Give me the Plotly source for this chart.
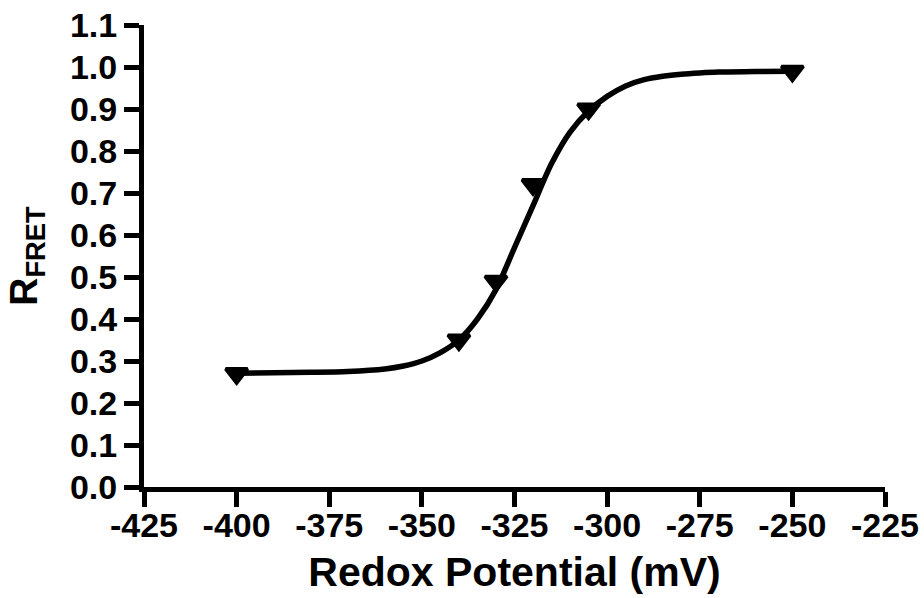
import plotly.graph_objects as go

# measured data points
pts_x = [-400, -340, -330, -320, -305, -250]
pts_y = [0.27, 0.35, 0.49, 0.72, 0.90, 0.99]

# fitted curve
fit_x = [-400, -390, -380, -370, -360, -355, -350, -345, -340, -335, -330, -325,
         -320, -315, -310, -305, -300, -295, -290, -285, -280, -275, -270, -260, -250]
fit_y = [0.271, 0.272, 0.273, 0.275, 0.281, 0.288, 0.300, 0.320, 0.350, 0.400, 0.470, 0.570,
         0.670, 0.770, 0.845, 0.895, 0.930, 0.955, 0.970, 0.978, 0.983, 0.986, 0.988, 0.989, 0.990]

x_ticks = [-425, -400, -375, -350, -325, -300, -275, -250, -225]
y_ticks = [0.0, 0.1, 0.2, 0.3, 0.4, 0.5, 0.6, 0.7, 0.8, 0.9, 1.0, 1.1]

FONT = "Liberation Sans, Arial, sans-serif"

fig = go.Figure()
fig.add_trace(go.Scatter(x=fit_x, y=fit_y, mode="lines",
                         line=dict(color="black", width=5.5, shape="spline", smoothing=0.8),
                         hoverinfo="skip", showlegend=False))
fig.add_trace(go.Scatter(x=pts_x, y=pts_y, mode="markers",
                         marker=dict(symbol="triangle-down", size=19, color="black",
                                     line=dict(color="black", width=3.5)),
                         showlegend=False))

fig.update_layout(
    width=924, height=598,
    margin=dict(l=144, r=39, t=25, b=111),
    paper_bgcolor="white", plot_bgcolor="white",
    font=dict(family=FONT, color="black"),
)
fig.update_xaxes(
    range=[-425, -225], tickvals=x_ticks, ticktext=[str(v) for v in x_ticks],
    automargin=False,
    showgrid=False, zeroline=False, showline=True, linecolor="black", linewidth=5,
    ticks="outside", ticklen=15, tickwidth=4.5, tickcolor="black",
    ticklabelstandoff=-11,
    tickfont=dict(family=FONT, size=34, color="black", weight="bold"),
    title=dict(text="<b>Redox Potential (mV)</b>", font=dict(family=FONT, size=41, color="black"),
               standoff=16),
)
fig.update_yaxes(
    range=[0, 1.1], tickvals=y_ticks, ticktext=[f"{v:.1f}" for v in y_ticks],
    automargin=False,
    showgrid=False, zeroline=False, showline=True, linecolor="black", linewidth=5,
    ticks="outside", ticklen=15, tickwidth=4.5, tickcolor="black",
    tickfont=dict(family=FONT, size=34, color="black", weight="bold"),
    title=dict(text="<b>R<sub>FRET</sub></b>", font=dict(family=FONT, size=39, color="black"),
               standoff=22),
)

fig.write_html("out.html")
